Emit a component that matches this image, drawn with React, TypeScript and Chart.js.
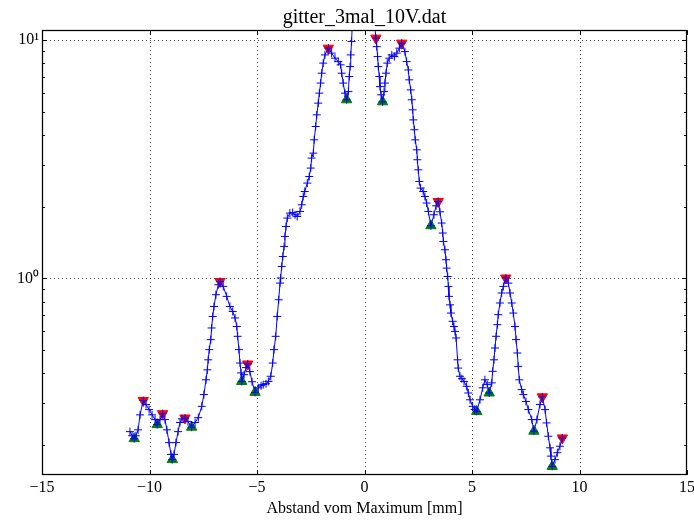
import React, { useEffect, useRef } from 'react';
import { Chart, registerables } from 'chart.js';

Chart.register(...registerables);

const TITLE = 'gitter_3mal_10V.dat';
const X_LABEL = 'Abstand vom Maximum [mm]';
const X_TICKS = [-15, -10, -5, 0, 5, 10, 15];
const X_TICK_LABELS = ['\u221215', '\u221210', '\u22125', '0', '5', '10', '15'];
const Y_MAJOR = [1, 10];
const Y_MAJOR_LABELS = ['10\u2070', '10\u00b9'];
const Y_MINOR = [0.2, 0.3, 0.4, 0.5, 0.6, 0.7, 0.8, 0.9, 2, 3, 4, 5, 6, 7, 8, 9];

// measured profile (x in mm, intensity)
const xValues = [
  -10.91, -10.81, -10.71, -10.63, -10.53, -10.44, -10.29, -10.16, -10.02, -9.88,
  -9.74, -9.64, -9.51, -9.39, -9.28, -9.19, -9.09, -9.0, -8.94, -8.86,
  -8.77, -8.67, -8.58, -8.49, -8.35, -8.21, -8.04, -7.88, -7.73, -7.57,
  -7.47, -7.37, -7.31, -7.27, -7.22, -7.15, -7.11, -7.06, -7.0, -6.91,
  -6.8, -6.72, -6.57, -6.41, -6.26, -6.13, -6.02, -5.94, -5.9, -5.84,
  -5.79, -5.74, -5.71, -5.6, -5.51, -5.43, -5.33, -5.23, -5.09, -4.94,
  -4.81, -4.71, -4.58, -4.47, -4.36, -4.27, -4.21, -4.13, -4.06, -3.99,
  -3.93, -3.9, -3.85, -3.8, -3.74, -3.7, -3.65, -3.59, -3.47, -3.34,
  -3.23, -3.13, -3.0, -2.92, -2.85, -2.78, -2.66, -2.57, -2.5, -2.46,
  -2.38, -2.34, -2.27, -2.22, -2.15, -2.1, -2.04, -1.99, -1.92, -1.84,
  -1.68, -1.53, -1.37, -1.22, -1.11, -1.06, -0.99, -0.91, -0.83, -0.75,
  -0.71, -0.67, -0.64, -0.6,
  -0.55, -0.4, -0.2, 0.0, 0.2, 0.4,
  0.53, 0.57, 0.61, 0.64, 0.69, 0.72, 0.77, 0.84, 0.91, 0.95,
  1.0, 1.06, 1.15, 1.27, 1.39, 1.5, 1.62, 1.73, 1.88, 1.96,
  2.04, 2.08, 2.15, 2.2, 2.24, 2.27, 2.32, 2.36, 2.43, 2.46,
  2.5, 2.55, 2.61, 2.73, 2.81, 2.89, 2.97, 3.09, 3.23, 3.33,
  3.43, 3.51, 3.59, 3.64, 3.67, 3.74, 3.79, 3.82, 3.87, 3.9,
  3.93, 3.98, 4.02, 4.1, 4.16, 4.21, 4.26, 4.33, 4.36, 4.44,
  4.53, 4.63, 4.75, 4.83, 4.91, 5.03, 5.12, 5.22, 5.37, 5.5,
  5.6, 5.71, 5.8, 5.92, 5.96, 6.02, 6.07, 6.12, 6.18, 6.22,
  6.3, 6.38, 6.46, 6.57, 6.69, 6.77, 6.85, 6.92, 7.0, 7.05,
  7.11, 7.15, 7.2, 7.31, 7.39, 7.51, 7.62, 7.78, 7.88, 8.02,
  8.16, 8.27, 8.4, 8.47, 8.55, 8.63, 8.67, 8.73, 8.86, 8.97,
  9.09, 9.2,
];

const yValues = [
  0.228, 0.219, 0.213, 0.219, 0.232, 0.268, 0.308, 0.296, 0.282, 0.268,
  0.256, 0.244, 0.256, 0.271, 0.256, 0.232, 0.205, 0.183, 0.174, 0.183,
  0.205, 0.228, 0.249, 0.258, 0.26, 0.251, 0.238, 0.249, 0.261, 0.291,
  0.326, 0.376, 0.414, 0.456, 0.503, 0.554, 0.62, 0.693, 0.763, 0.855,
  0.941, 0.971, 0.926, 0.841, 0.763, 0.727, 0.683, 0.629, 0.572, 0.503,
  0.442, 0.402, 0.37, 0.395, 0.423, 0.438, 0.407, 0.369, 0.333, 0.348,
  0.355, 0.359, 0.362, 0.37, 0.389, 0.442, 0.503, 0.572, 0.693, 0.814,
  0.956, 1.004, 1.123, 1.236, 1.362, 1.5, 1.651, 1.79, 1.879, 1.89,
  1.849, 1.818, 1.909, 2.036, 2.206, 2.314, 2.51, 2.675, 2.901, 3.195,
  3.352, 3.811, 4.334, 4.85, 5.43, 5.98, 6.59, 7.25, 7.99, 8.65,
  9.23, 8.8, 8.38, 8.11, 7.86, 7.25, 6.59, 5.98, 5.61, 6.07,
  7.02, 7.73, 8.65, 9.84,
  13, 17, 20, 21, 19, 14,
  10.17, 9.37, 8.51, 7.73, 7.02, 6.37, 5.885, 5.5, 6.07, 6.59,
  7.25, 7.99, 8.38, 8.65, 8.51, 8.8, 9.23, 9.69, 8.93, 8.11,
  7.48, 6.8, 6.17, 5.61, 5.09, 4.62, 4.2, 3.81, 3.46, 3.144,
  2.854, 2.55, 2.392, 2.314, 2.206, 2.07, 1.909, 1.663, 1.849, 2.016,
  2.102, 1.903, 1.707, 1.55, 1.429, 1.319, 1.198, 1.105, 1.019, 0.926,
  0.841, 0.775, 0.716, 0.661, 0.629, 0.6, 0.563, 0.456, 0.421, 0.389,
  0.38, 0.37, 0.353, 0.331, 0.31, 0.291, 0.282, 0.277, 0.31, 0.348,
  0.376, 0.359, 0.331, 0.365, 0.408, 0.456, 0.511, 0.572, 0.64, 0.705,
  0.789, 0.869, 0.926, 1.004, 0.956, 0.869, 0.789, 0.716, 0.629, 0.554,
  0.487, 0.428, 0.376, 0.342, 0.326, 0.305, 0.282, 0.256, 0.229, 0.256,
  0.296, 0.319, 0.282, 0.248, 0.218, 0.195, 0.18, 0.163, 0.174, 0.186,
  0.198, 0.2145,
];

const maxX = [-10.29, -9.39, -8.35, -6.72, -5.43, -1.68, 0.53, 1.73, 3.43, 6.57, 8.27, 9.2];
const maxY = [0.308, 0.271, 0.26, 0.971, 0.438, 9.23, 10.17, 9.69, 2.102, 1.004, 0.319, 0.2145];
const minX = [-10.71, -9.64, -8.94, -8.04, -5.71, -5.09, -0.83, 0.84, 3.09, 5.22, 5.8, 7.88, 8.73];
const minY = [0.213, 0.244, 0.174, 0.238, 0.37, 0.333, 5.61, 5.5, 1.663, 0.277, 0.331, 0.229, 0.163];

const FONT = "'Liberation Serif', 'Times New Roman', serif";

const framePlugin = {
  id: 'mplFrame',
  beforeDatasetsDraw(chart: any) {
    const { ctx, chartArea, scales } = chart;
    const { left, right, top, bottom } = chartArea;
    ctx.save();
    ctx.strokeStyle = 'rgba(0,0,0,0.75)';
    ctx.lineWidth = 1;
    ctx.setLineDash([1, 3]);
    for (const v of X_TICKS) {
      if (v <= -15 || v >= 15) continue;
      const px = Math.round(scales.x.getPixelForValue(v)) + 0.5;
      ctx.beginPath();
      ctx.moveTo(px, top);
      ctx.lineTo(px, bottom);
      ctx.stroke();
    }
    for (const v of Y_MAJOR) {
      const py = Math.round(scales.y.getPixelForValue(v)) + 0.5;
      ctx.beginPath();
      ctx.moveTo(left, py);
      ctx.lineTo(right, py);
      ctx.stroke();
    }
    ctx.restore();
  },
  afterDatasetsDraw(chart: any) {
    const { ctx, chartArea, scales } = chart;
    const { left, right, top, bottom } = chartArea;
    ctx.save();
    ctx.strokeStyle = '#000';
    ctx.lineWidth = 1;
    const tick = (x1: number, y1: number, x2: number, y2: number) => {
      ctx.beginPath();
      ctx.moveTo(x1, y1);
      ctx.lineTo(x2, y2);
      ctx.stroke();
    };
    for (const v of X_TICKS) {
      const px = Math.round(scales.x.getPixelForValue(v)) + 0.5;
      tick(px, bottom, px, bottom - 5);
      tick(px, top, px, top + 5);
    }
    for (const v of Y_MAJOR) {
      const py = Math.round(scales.y.getPixelForValue(v)) + 0.5;
      tick(left, py, left + 5, py);
      tick(right, py, right - 5, py);
    }
    for (const v of Y_MINOR) {
      const py = Math.round(scales.y.getPixelForValue(v)) + 0.5;
      tick(left, py, left + 3, py);
      tick(right, py, right - 3, py);
    }
    ctx.lineWidth = 1.25;
    ctx.strokeRect(Math.round(left) + 0.5, Math.round(top) + 0.5, Math.round(right - left) - 1, Math.round(bottom - top) - 1);
    ctx.restore();
  },
};

export default function App() {
  const ref = useRef<HTMLCanvasElement>(null);

  useEffect(() => {
    document.body.style.margin = '0';
    const points = xValues.map((x, i) => ({ x, y: yValues[i] }));
    const maxPts = maxX.map((x, i) => ({ x, y: maxY[i] }));
    const minPts = minX.map((x, i) => ({ x, y: minY[i] }));

    const chart = new Chart(ref.current as HTMLCanvasElement, {
      type: 'scatter',
      data: {
        datasets: [
          {
            label: 'data',
            data: points,
            showLine: true,
            borderColor: '#0000ff',
            borderWidth: 1,
            pointStyle: 'cross',
            pointRadius: 4,
            pointBorderWidth: 1,
            pointBorderColor: '#0000ff',
            pointBackgroundColor: '#0000ff',
          },
          {
            label: 'maxima',
            data: maxPts,
            showLine: false,
            pointStyle: 'triangle',
            rotation: 180,
            pointRadius: 6,
            pointBorderWidth: 1,
            pointBackgroundColor: '#ff0000',
            pointBorderColor: '#ff0000',
          },
          {
            label: 'minima',
            data: minPts,
            showLine: false,
            pointStyle: 'triangle',
            pointRadius: 6,
            pointBorderWidth: 1,
            pointBackgroundColor: '#008000',
            pointBorderColor: '#008000',
          },
        ],
      } as any,
      options: {
        animation: false,
        responsive: false,
        devicePixelRatio: 1,
        events: [],
        layout: { padding: { left: 0, right: 7, top: 0, bottom: 0 }, autoPadding: false },
        plugins: {
          legend: { display: false },
          tooltip: { enabled: false },
          title: {
            display: true,
            text: TITLE,
            fullSize: false,
            color: '#000',
            font: { family: FONT, size: 20, weight: 'normal' },
            padding: { top: 5.5, bottom: 0.5 },
          },
        },
        scales: {
          x: {
            type: 'linear',
            min: -15,
            max: 15,
            afterFit: (s: any) => {
              s.height = 46;
              s.paddingLeft = 0;
              s.paddingRight = 0;
            },
            afterBuildTicks: (s: any) => {
              s.ticks = X_TICKS.map((v) => ({ value: v }));
            },
            ticks: {
              callback: (_v: any, i: number) => X_TICK_LABELS[i],
              color: '#000',
              font: { family: FONT, size: 16 },
              padding: 3,
              maxRotation: 0,
              autoSkip: false,
            },
            grid: { display: false, drawTicks: false },
            border: { display: false },
            title: {
              display: true,
              text: X_LABEL,
              color: '#000',
              font: { family: FONT, size: 16 },
              padding: { top: 0, bottom: 3 },
            },
          },
          y: {
            type: 'logarithmic',
            min: 0.15,
            max: 11,
            afterFit: (s: any) => {
              s.width = 42;
              s.paddingTop = 0;
              s.paddingBottom = 0;
            },
            afterBuildTicks: (s: any) => {
              s.ticks = Y_MAJOR.map((v) => ({ value: v }));
            },
            ticks: {
              callback: (_v: any, i: number) => Y_MAJOR_LABELS[i],
              color: '#000',
              font: { family: FONT, size: 16 },
              padding: 3,
              autoSkip: false,
            },
            grid: { display: false, drawTicks: false },
            border: { display: false },
          },
        },
      } as any,
      plugins: [framePlugin],
    });
    return () => chart.destroy();
  }, []);

  return (
    <div style={{ position: 'absolute', left: 0, top: 0, width: 694, height: 521 }}>
      <canvas ref={ref} width={694} height={521} style={{ display: 'block' }} />
    </div>
  );
}
